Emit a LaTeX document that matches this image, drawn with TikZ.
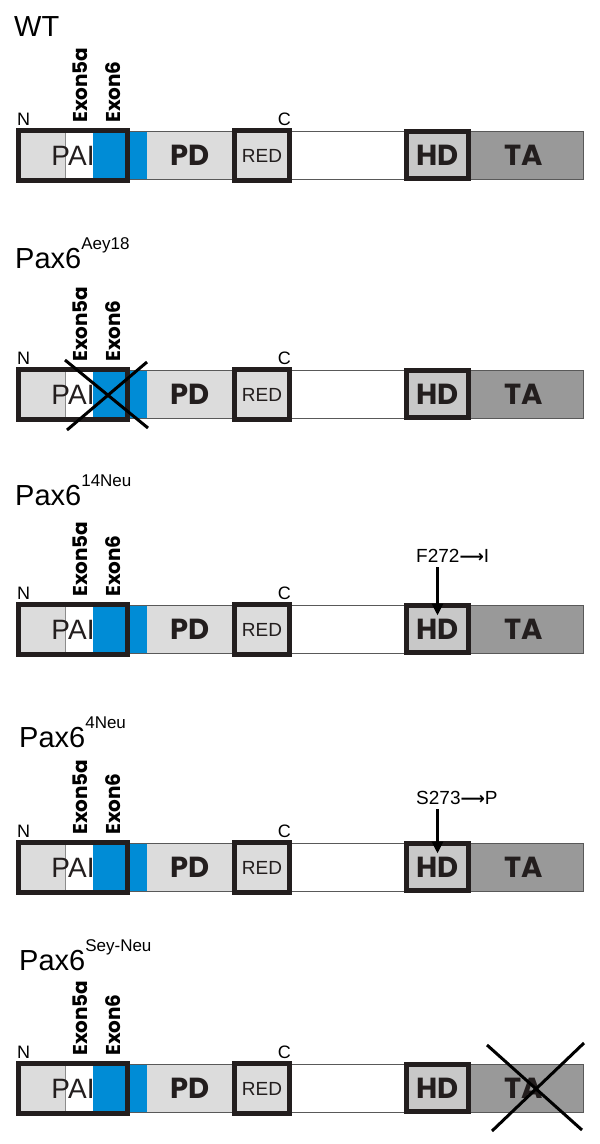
\documentclass[tikz,border=0pt]{standalone}
\usepackage{fontspec}
\setmainfont{Liberation Sans}
\newfontfamily\gothic{Poppins}
\newfontfamily\dejavu{DejaVu Sans}
\usetikzlibrary{arrows.meta,calc}
\definecolor{lgray}{RGB}{220,220,220}
\definecolor{mgray}{RGB}{200,200,200}
\definecolor{dgray}{RGB}{153,153,153}
\definecolor{pblue}{RGB}{0,140,214}
\definecolor{boxblack}{RGB}{35,30,30}
\tikzset{
  thinbar/.style={draw=black!65, line width=1pt},
  thickbox/.style={draw=boxblack, line width=5pt, inner sep=0pt, outer sep=0pt},
  domtext/.style={inner sep=0pt, outer sep=0pt, text=boxblack},
  boldlbl/.style={domtext, font=\gothic\bfseries\fontsize{29}{29}\selectfont},
  crossline/.style={line width=3pt, black},
  mut/.style={line width=3pt, black, -{Triangle[length=12pt,width=11pt]}},
  ptitle/.style={anchor=base west, inner sep=0pt, font=\fontsize{29}{29}\selectfont},
  exon/.style={rotate=90, anchor=base west, inner sep=0pt, font=\gothic\bfseries\fontsize{20}{20}\selectfont},
  endlbl/.style={inner sep=0pt, font=\fontsize{18}{18}\selectfont},
  mutlbl/.style={anchor=base west, inner sep=0pt, font=\fontsize{19}{19}\selectfont},
}
\newcommand\supx[1]{\raisebox{19pt}{\fontsize{17}{17}\selectfont #1}}
\newcommand\domainpanel[2]{%
\begin{scope}[yshift=-#2pt]
  \fill[lgray] (16,131) rectangle (65,179);
  \fill[white] (65,131) rectangle (93,179);
  \fill[pblue] (93,131) rectangle (147,179);
  \fill[lgray] (147,131) rectangle (583,179);
  \fill[white] (291,131) rectangle (405,179);
  \fill[dgray] (469,131) rectangle (583,179);
  \draw[black!45, line width=0.8pt] (65,131) -- (65,179);
  \draw[thinbar] (16,131) rectangle (583,179);
  \node[thickbox, minimum width=109, minimum height=50, font=\fontsize{28}{28}\selectfont, text=boxblack] (pai#1) at (73,155.5) {PAI};
  \node[boldlbl] (pd#1) at (190,155) {PD};
  \node[thickbox, minimum width=55, minimum height=50, font=\fontsize{19}{19}\selectfont, text=boxblack] (red#1) at (262,155.5) {RED};
  \node[thickbox, fill=mgray, minimum width=62, minimum height=47, font=\gothic\bfseries\fontsize{29}{29}\selectfont, text=boxblack] (hd#1) at (437.5,155) {HD};
  \node[boldlbl] (ta#1) at (524,155) {TA};
  \node[exon] (ex5#1) at (87,123) {Exon5a};
  \node[exon] (ex6#1) at (120,123) {Exon6};
  \node[endlbl, anchor=base west] (n#1) at (17,125) {N};
  \node[endlbl, anchor=base east] (c#1) at (291,125) {C};
\end{scope}}
\begin{document}
\begin{tikzpicture}[x=1pt,y=-1pt]
\useasboundingbox (0,0) rectangle (600,1144);
\fill[white] (0,0) rectangle (600,1144);

% WT
\node[ptitle] (t1) at (14,36) {WT};
\domainpanel{1}{0}

% Aey18
\node[ptitle] (t2) at (15,268) {Pax6\supx{Aey18}};
\domainpanel{2}{239}
\begin{scope}[yshift=-239pt]
  \draw[crossline] (65,121) -- (148,189);
  \draw[crossline] (67,191) -- (147,123);
\end{scope}

% 14Neu
\node[ptitle] (t3) at (15,505) {Pax6\supx{14Neu}};
\domainpanel{3}{474}
\node[mutlbl] (m3) at (416,562) {F272{\dejavu\bfseries\fontsize{17}{17}\selectfont ⟶}I};
\draw[mut] ([yshift=-5pt]m3.base -| hd3.center) -- ($(hd3.north)+(0,10)$);

% 4Neu
\node[ptitle] (t4) at (19,747) {Pax6\supx{4Neu}};
\domainpanel{4}{712}
\node[mutlbl] (m4) at (416,804) {S273{\dejavu\bfseries\fontsize{17}{17}\selectfont ⟶}P};
\draw[mut] ([yshift=-5pt]m4.base -| hd4.center) -- ($(hd4.north)+(0,10)$);

% Sey-Neu
\node[ptitle] (t5) at (19,970) {Pax6\supx{Sey-Neu}};
\domainpanel{5}{933}
\begin{scope}[yshift=-933pt]
  \draw[crossline] (487,112) -- (582,197);
  \draw[crossline] (492,198) -- (584,110);
\end{scope}
\end{tikzpicture}
\end{document}
